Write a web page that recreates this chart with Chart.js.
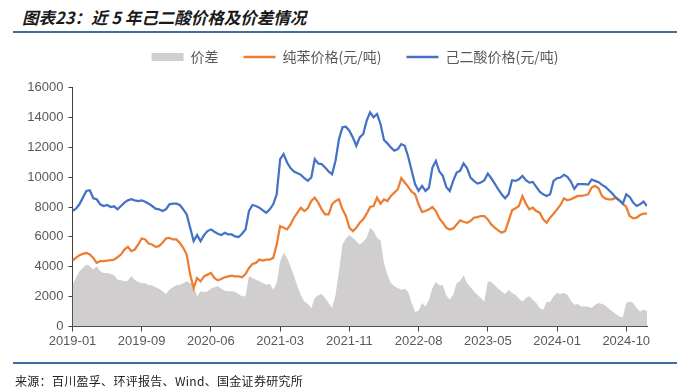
<!DOCTYPE html>
<html><head><meta charset="utf-8">
<script src="https://cdn.jsdelivr.net/npm/chart.js@4.4.1/dist/chart.umd.min.js"></script>
<style>
html,body{margin:0;padding:0;background:#fff;}
#wrap{position:relative;width:691px;height:387px;overflow:hidden;background:#fff;}
#title{position:absolute;left:22px;top:6px;font-style:italic;font-weight:bold;font-size:16.5px;font-family:"Noto Sans CJK SC",sans-serif;color:#1a1a1a;line-height:22px;white-space:nowrap;}
.rule{position:absolute;left:13px;width:664px;height:2px;background:#3A6F9F;}
#src{position:absolute;left:15px;top:372px;font-size:12px;font-family:"Noto Sans CJK SC",sans-serif;color:#222;line-height:17px;white-space:nowrap;letter-spacing:0.3px;}
canvas{position:absolute;left:0;top:0;}
</style></head>
<body>
<div id="wrap">
  <div id="title">图表23：近 5 年己二酸价格及价差情况</div>
  <div class="rule" style="top:31px"></div>
  <canvas id="c" width="691" height="387"></canvas>
  <div class="rule" style="top:362px"></div>
  <div id="src">来源：百川盈孚、环评报告、Wind、国金证券研究所</div>
</div>
<script>
const tickLabels = ['2019-01','2019-09','2020-06','2021-03','2021-11','2022-08','2023-05','2024-01','2024-10'];
const seriesNames = ['价差','纯苯价格(元/吨)','己二酸价格(元/吨)'];

const adipic = [7731,7888,8180,8628,9076,9121,8583,8516,8180,8067,8135,8000,8045,7843,8067,8291,8448,8516,8448,8403,
8448,8358,8224,8067,7888,7843,7731,7843,8180,8224,8224,8135,7843,7507,6611,5714,6118,5714,6118,6387,
6498,6342,6207,6118,6275,6163,6163,6028,5983,6207,6498,7731,8135,8067,7955,7776,7619,7843,8180,8852,
11204,11541,10981,10600,10376,10264,10152,9927,9748,9972,11204,10913,10869,10644,10376,10196,11093,12549,13334,13378,
13110,12661,12101,12661,12885,13782,14342,14006,14230,13558,12482,12258,11989,11765,11877,12213,12101,11362,10420,9524,
9076,9412,9076,9300,10644,11093,10376,10084,9345,9076,9748,10308,10420,10913,10600,9972,9748,9569,9636,9793,
10241,9927,9569,9188,8852,8583,8852,9793,9748,9860,10084,9793,9636,9681,9345,9031,8852,8740,8852,9748,
9927,9972,10152,10017,9703,9210,9524,9524,9524,9502,9838,9748,9659,9479,9345,9121,8897,8628,8448,8224,
8852,8673,8291,8067,8180,8359,8067];

const benzene = [4414,4594,4773,4863,4930,4818,4594,4258,4370,4370,4414,4437,4481,4638,4818,5154,5333,5042,5154,5490,
5893,5826,5557,5490,5333,5378,5602,5893,5938,5826,5826,5602,5266,4818,3473,2577,3249,3025,3361,3473,
3585,3249,3092,3182,3294,3361,3406,3361,3361,3294,3518,3921,4190,4258,4481,4414,4481,4481,4594,5490,
6723,6611,6498,6835,7283,7619,7955,7731,7910,8403,8628,8291,7843,7507,7507,8180,8403,8516,7843,7395,
6611,6387,6611,6947,7171,7552,8000,8067,8628,8224,8516,8403,8740,8964,9188,9927,9636,9345,9031,8852,
8180,7664,7731,7843,8000,7731,7238,6947,6611,6498,6566,6835,7104,7014,6947,7059,7283,7328,7395,7395,
7171,6835,6611,6431,6275,6387,7059,7776,7910,8067,8740,8224,7843,7955,7731,7619,7171,6947,7283,7552,
7843,8135,8583,8448,8516,8628,8740,8740,8785,8852,9300,9412,9255,8740,8560,8516,8516,8628,8448,8224,
8000,7395,7238,7283,7462,7552,7552];

const spread = [2801,3249,3697,3921,4146,4033,3809,4033,3697,3585,3585,3518,3428,3137,3092,3025,3070,3361,3137,2980,
2891,2913,2756,2756,2622,2532,2353,2174,2465,2622,2756,2801,2891,3025,2913,2756,2017,2353,2308,2353,
2532,2622,2689,2532,2398,2353,2353,2308,2174,2017,2017,3361,3249,3137,3025,2913,2801,2868,2465,2913,
4370,4930,4594,4033,3361,2689,2084,1680,1500,1232,1904,2084,2174,1904,1568,1232,2129,3697,5490,5894,
6118,5938,5714,5490,5669,5938,6611,6387,5938,5759,4258,3473,2913,2689,2577,2465,2532,2308,1568,964,
1053,1568,1344,1792,2577,2980,2756,2756,2084,1792,2129,2913,3025,3428,2913,2622,2353,2129,1904,1680,
3025,2980,2756,2532,2353,2174,2465,2241,2129,1860,1680,1904,2017,1792,1568,1232,1120,1635,1635,2017,
2241,2174,2241,2129,1725,1456,1500,1344,1344,1322,1232,1456,1568,1500,1411,1187,1008,829,672,605,
1568,1680,1568,1232,1008,1120,1053];

const TICK_EVERY = 20;
const GRAY = '#D0CECE', ORANGE = '#ED7D31', BLUE = '#4472C4';
const toXY = arr => arr.map((v, i) => ({x: i, y: v}));
const AXIS = '#404040', TXT = '#595959';
const font13 = {family: '"Liberation Sans", Arial, sans-serif', size: 13};

new Chart(document.getElementById('c'), {
  type: 'line',
  data: {
    datasets: [
      {label: seriesNames[0], data: toXY(spread), fill: 'origin', backgroundColor: GRAY, borderColor: 'rgba(0,0,0,0)', borderWidth: 0, pointRadius: 0, order: 3},
      {label: seriesNames[1], data: toXY(benzene), fill: false, borderColor: ORANGE, borderWidth: 2.25, pointRadius: 0, tension: 0, order: 2},
      {label: seriesNames[2], data: toXY(adipic), fill: false, borderColor: BLUE, borderWidth: 2.25, pointRadius: 0, tension: 0, order: 1}
    ]
  },
  options: {
    responsive: false,
    animation: false,
    devicePixelRatio: 1,
    layout: {padding: {top: 25, left: 19, right: 0, bottom: 0}},
    plugins: {
      tooltip: {enabled: false},
      subtitle: {display: true, text: '', weight: 500, font: {size: 1, lineHeight: 1}, padding: {top: 12.5, bottom: 0}},
      legend: {
        position: 'top',
        align: 'center',
        labels: {
          usePointStyle: true,
          pointStyleWidth: 32,
          boxHeight: 8,
          padding: 25,
          color: TXT,
          font: {family: '"Noto Sans CJK SC", sans-serif', size: 14},
          generateLabels: () => [
            {text: seriesNames[0], fillStyle: GRAY, strokeStyle: GRAY, lineWidth: 0, pointStyle: 'rect', fontColor: TXT, datasetIndex: 0},
            {text: seriesNames[1], fillStyle: ORANGE, strokeStyle: ORANGE, lineWidth: 2.5, pointStyle: 'line', fontColor: TXT, datasetIndex: 1},
            {text: seriesNames[2], fillStyle: BLUE, strokeStyle: BLUE, lineWidth: 2.5, pointStyle: 'line', fontColor: TXT, datasetIndex: 2}
          ]
        }
      }
    },
    scales: {
      x: {
        type: 'linear',
        min: 0,
        max: adipic.length - 1,
        afterFit: s => { s.height = 60.5; },
        grid: {display: true, drawOnChartArea: false, drawTicks: true, tickLength: 5, tickColor: AXIS},
        border: {display: true, color: AXIS, width: 1},
        ticks: {
          stepSize: TICK_EVERY,
          includeBounds: false,
          autoSkip: false,
          maxRotation: 0,
          padding: 2,
          color: TXT,
          font: font13,
          callback: v => tickLabels[v / TICK_EVERY] ?? ''
        }
      },
      y: {
        min: 0,
        max: 16000,
        afterFit: s => { s.width = 53.5; },
        grid: {display: true, drawOnChartArea: false, drawTicks: true, tickLength: 4, tickColor: AXIS},
        border: {display: true, color: AXIS, width: 1},
        ticks: {stepSize: 2000, padding: 5, color: TXT, font: font13, callback: v => String(v)}
      },
      rightGap: {
        type: 'linear',
        position: 'right',
        display: true,
        min: 0,
        max: 1,
        afterFit: s => { s.width = 44; },
        grid: {display: false},
        border: {display: false},
        ticks: {display: false}
      }
    }
  }
});
</script>
</body></html>
